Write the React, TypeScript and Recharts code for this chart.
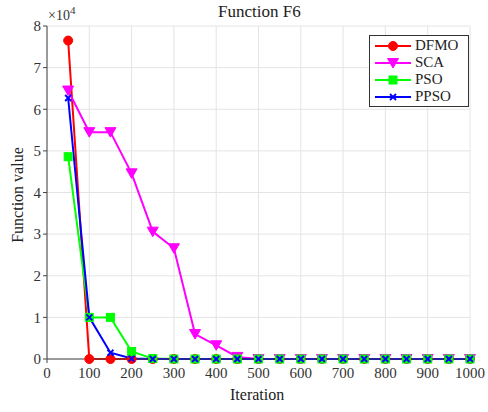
import React from "react";
import {
  LineChart,
  Line,
  XAxis,
  YAxis,
  CartesianGrid,
} from "recharts";

const iterations = [50, 100, 150, 200, 250, 300, 350, 400, 450, 500, 550, 600, 650, 700, 750, 800, 850, 900, 950, 1000];
const dfmo = [76500, 0, 0, 0, 0, 0, 0, 0, 0, 0, 0, 0, 0, 0, 0, 0, 0, 0, 0, 0];
const sca = [64500, 54500, 54500, 44600, 30600, 26600, 6000, 3300, 500, 0, 0, 0, 0, 0, 0, 0, 0, 0, 0, 0];
const pso = [48600, 10000, 10000, 1800, 100, 0, 0, 0, 0, 0, 0, 0, 0, 0, 0, 0, 0, 0, 0, 0];
const ppso = [62700, 10000, 1500, 100, 0, 0, 0, 0, 0, 0, 0, 0, 0, 0, 0, 0, 0, 0, 0, 0];
const xTicks = [0, 100, 200, 300, 400, 500, 600, 700, 800, 900, 1000];
const yTicks = [0, 10000, 20000, 30000, 40000, 50000, 60000, 70000, 80000];

const data = iterations.map((x, i) => ({
  x,
  DFMO: dfmo[i],
  SCA: sca[i],
  PSO: pso[i],
  PPSO: ppso[i],
}));

const FONT = '"Liberation Serif", "Times New Roman", serif';

const series = [
  { key: "DFMO", color: "#ff0000", marker: "circle" },
  { key: "SCA", color: "#ff00ff", marker: "triangle" },
  { key: "PSO", color: "#00ff00", marker: "square" },
  { key: "PPSO", color: "#0000ff", marker: "x" },
];

function Marker({ type, cx, cy, color }: { type: string; cx: number; cy: number; color: string }) {
  if (type === "circle") return <circle cx={cx} cy={cy} r={4.5} fill={color} stroke={color} />;
  if (type === "triangle")
    return (
      <polygon
        points={`${cx - 5.5},${cy - 4.5} ${cx + 5.5},${cy - 4.5} ${cx},${cy + 5}`}
        fill={color}
        stroke={color}
      />
    );
  if (type === "square")
    return <rect x={cx - 4} y={cy - 4} width={8} height={8} fill={color} stroke={color} />;
  return (
    <g stroke={color} strokeWidth={1.8}>
      <line x1={cx - 3} y1={cy - 3} x2={cx + 3} y2={cy + 3} />
      <line x1={cx - 3} y1={cy + 3} x2={cx + 3} y2={cy - 3} />
    </g>
  );
}

function LegendBox() {
  return (
    <div
      style={{
        position: "absolute",
        left: 369,
        top: 35,
        width: 92,
        background: "#fff",
        border: "1px solid #333",
        padding: "1px 3px",
        fontFamily: FONT,
        fontSize: 15,
        color: "#222",
      }}
    >
      {series.map((s) => (
        <div key={s.key} style={{ display: "flex", alignItems: "center", height: 17 }}>
          <svg width={40} height={14}>
            <line x1={2} y1={7} x2={38} y2={7} stroke={s.color} strokeWidth={2} />
            <Marker type={s.marker} cx={20} cy={7} color={s.color} />
          </svg>
          <span style={{ marginLeft: 2 }}>{s.key}</span>
        </div>
      ))}
    </div>
  );
}

export default function App() {
  return (
    <div style={{ position: "absolute", left: 0, top: 0, width: 488, height: 412, background: "#fff" }}>
      <LineChart
        width={488}
        height={412}
        data={data}
        margin={{ top: 26, right: 18, left: 0, bottom: 0 }}
      >
        <CartesianGrid stroke="#e4e4e4" strokeWidth={1} />
        <XAxis
          dataKey="x"
          type="number"
          domain={[0, 1000]}
          ticks={xTicks}
          height={53}
          tickSize={4}
          tick={{ fill: "#333", fontSize: 15, fontFamily: FONT, dy: 2 }}
          stroke="#444"
          interval={0}
        />
        <XAxis xAxisId="top" orientation="top" type="number" domain={[0, 1000]} ticks={xTicks} tick={false} height={0} stroke="#444" tickSize={0} />
        <YAxis
          type="number"
          domain={[0, 80000]}
          ticks={yTicks}
          width={47}
          tickSize={4}
          tickFormatter={(v: number) => `${v / 10000}`}
          tick={{ fill: "#333", fontSize: 15, fontFamily: FONT }}
          stroke="#444"
          interval={0}
        />
        <YAxis yAxisId="right" orientation="right" type="number" domain={[0, 80000]} ticks={yTicks} tick={false} width={0} stroke="#444" tickSize={0} />
        {series.map((s) => (
          <Line
            key={s.key}
            dataKey={s.key}
            stroke={s.color}
            strokeWidth={2}
            isAnimationActive={false}
            dot={(p: any) => (
              <Marker key={`${s.key}-${p.index}`} type={s.marker} cx={p.cx} cy={p.cy} color={s.color} />
            )}
            activeDot={false}
          />
        ))}
      </LineChart>
      <LegendBox />
      <div style={{ position: "absolute", left: 218, top: 2, fontFamily: FONT, fontSize: 17, color: "#222" }}>
        Function F6
      </div>
      <div style={{ position: "absolute", left: 48, top: 4, fontFamily: FONT, fontSize: 14, color: "#333" }}>
        ×10<sup style={{ fontSize: 11 }}>4</sup>
      </div>
      <div style={{ position: "absolute", left: 230, top: 386, fontFamily: FONT, fontSize: 16, color: "#222" }}>
        Iteration
      </div>
      <div
        style={{
          position: "absolute",
          left: 18,
          top: 195,
          fontFamily: FONT,
          fontSize: 16,
          color: "#222",
          transform: "translate(-50%, -50%) rotate(-90deg)",
          whiteSpace: "nowrap",
        }}
      >
        Function value
      </div>
    </div>
  );
}
